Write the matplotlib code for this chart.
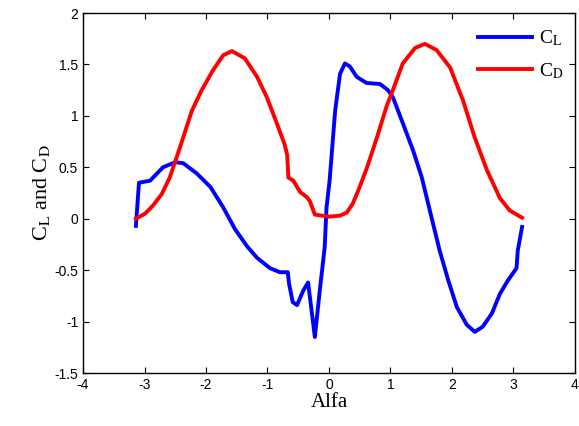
import matplotlib.pyplot as plt

plt.rcParams['mathtext.fontset'] = 'stix'

# lift coefficient
cl_alfa = [-3.14, -3.09, -2.91, -2.70, -2.50, -2.37, -2.15, -1.93, -1.72, -1.53,
           -1.33, -1.17, -0.96, -0.80, -0.67, -0.65, -0.59, -0.52, -0.42, -0.34, -0.23,
           -0.15, -0.07, -0.04, 0.01, 0.10, 0.18, 0.26, 0.34, 0.45, 0.61, 0.83, 0.96,
           1.04, 1.20, 1.37, 1.51, 1.64, 1.80, 1.94, 2.08, 2.24, 2.37, 2.50, 2.65,
           2.78, 2.91, 3.05, 3.07, 3.14]
cl = [-0.07, 0.35, 0.37, 0.50, 0.55, 0.54, 0.44, 0.31, 0.11, -0.10,
      -0.27, -0.38, -0.48, -0.52, -0.52, -0.63, -0.81, -0.84, -0.70, -0.62, -1.15,
      -0.70, -0.28, 0.11, 0.37, 1.05, 1.41, 1.51, 1.48, 1.38, 1.32, 1.31, 1.25,
      1.18, 0.93, 0.66, 0.40, 0.08, -0.31, -0.60, -0.86, -1.03, -1.10, -1.05, -0.92,
      -0.73, -0.60, -0.48, -0.31, -0.08]

# drag coefficient
cd_alfa = [-3.14, -2.99, -2.86, -2.72, -2.59, -2.42, -2.23, -2.07, -1.89, -1.72,
           -1.58, -1.37, -1.17, -1.01, -0.85, -0.72, -0.68, -0.66, -0.58, -0.47,
           -0.36, -0.31, -0.23, 0.0, 0.18, 0.29, 0.39, 0.50, 0.62, 0.78, 0.94,
           1.02, 1.20, 1.40, 1.56, 1.75, 1.97, 2.18, 2.37, 2.57, 2.78, 2.94, 3.11, 3.14]
cd = [0.0, 0.05, 0.13, 0.24, 0.40, 0.70, 1.05, 1.25, 1.44, 1.59,
      1.63, 1.56, 1.38, 1.18, 0.93, 0.72, 0.62, 0.40, 0.37, 0.26,
      0.21, 0.17, 0.04, 0.02, 0.03, 0.06, 0.15, 0.31, 0.50, 0.79, 1.10,
      1.22, 1.51, 1.66, 1.70, 1.64, 1.47, 1.15, 0.79, 0.47, 0.20, 0.08, 0.02, 0.01]

x_ticks = [-4, -3, -2, -1, 0, 1, 2, 3, 4]
y_ticks = [-1.5, -1, -0.5, 0, 0.5, 1, 1.5, 2]
y_labels = ['-1.5', '-1', '-0.5', '0', '0.5', '1', '1.5', '2']

fig = plt.figure(figsize=(5.79, 4.26), dpi=100)
ax = fig.add_axes([0.1434, 0.1244, 0.8496, 0.845])

ax.plot(cl_alfa, cl, color='#0000ff', lw=2.8, label=r'C$_\mathrm{L}$')
ax.plot(cd_alfa, cd, color='#ff0000', lw=2.8, label=r'C$_\mathrm{D}$')

ax.set_xlim(-4, 4)
ax.set_ylim(-1.5, 2)
ax.set_xticks(x_ticks)
ax.set_xticklabels([str(t) for t in x_ticks], family='Liberation Sans', fontsize=10)
ax.set_yticks(y_ticks)
ax.set_yticklabels(y_labels, family='Liberation Sans', fontsize=10)
ax.tick_params(direction='in', top=True, right=True, length=4, width=0.8)
for s in ax.spines.values():
    s.set_linewidth(1.0)

ax.set_xlabel('Alfa', family='Liberation Serif', fontsize=15, labelpad=1)
ax.set_ylabel(r'C$_\mathrm{L}$ and C$_\mathrm{D}$', family='Liberation Serif', fontsize=16, labelpad=2)

leg = ax.legend(loc='upper right', bbox_to_anchor=(1.016, 1.011), frameon=False,
                prop={'family': 'Liberation Serif', 'size': 14},
                handlelength=2.8, handletextpad=0.35, borderaxespad=0.6, labelspacing=0.65)

fig.savefig('out.png', dpi=100)
